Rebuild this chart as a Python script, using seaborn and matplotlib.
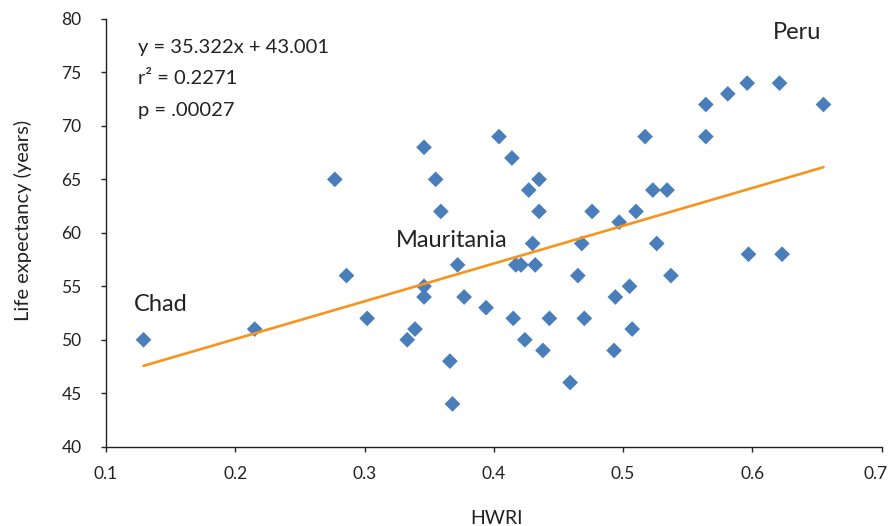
import matplotlib
matplotlib.use("Agg")
import matplotlib.pyplot as plt
import matplotlib.transforms as mtransforms
import seaborn as sns
import pandas as pd

hwri = [0.129, 0.215, 0.277, 0.286, 0.302, 0.333, 0.339, 0.346, 0.346, 0.346,
        0.355, 0.359, 0.366, 0.368, 0.372, 0.377, 0.394, 0.404, 0.414, 0.415,
        0.417, 0.421, 0.424, 0.427, 0.430, 0.432, 0.435, 0.435, 0.438, 0.443,
        0.459, 0.465, 0.468, 0.470, 0.476, 0.493, 0.494, 0.497, 0.505, 0.507,
        0.510, 0.517, 0.523, 0.526, 0.534, 0.537, 0.564, 0.564, 0.581, 0.596,
        0.597, 0.621, 0.623, 0.655]
life_exp = [50, 51, 65, 56, 52, 50, 51, 68, 55, 54,
            65, 62, 48, 44, 57, 54, 53, 69, 67, 52,
            57, 57, 50, 64, 59, 57, 65, 62, 49, 52,
            46, 56, 59, 52, 62, 49, 54, 61, 55, 51,
            62, 69, 64, 59, 64, 56, 72, 69, 73, 74,
            58, 74, 58, 72]

slope = 35.322
intercept = 43.001
eq_lines = ["y = 35.322x + 43.001", "r² = 0.2271", "p = .00027"]
labels = ["Chad", "Mauritania", "Peru"]
label_pos = [(0.1425, 53.3), (0.3676, 59.3), (0.6344, 78.7)]

x_ticks = [0.1, 0.2, 0.3, 0.4, 0.5, 0.6, 0.7]
y_ticks = [40, 45, 50, 55, 60, 65, 70, 75, 80]

sns.set_style("ticks")
plt.rcParams['font.family'] = ['Lato', 'DejaVu Sans']

df = pd.DataFrame({"HWRI": hwri, "Life": life_exp})
trend_x = [min(hwri), max(hwri)]
trend = pd.DataFrame({"x": trend_x, "y": [slope * v + intercept for v in trend_x]})

fig = plt.figure(figsize=(8.91, 5.26), dpi=100)
ax = fig.add_axes([0.119, 0.1508, 0.8705, 0.8131])

sns.scatterplot(data=df, x="HWRI", y="Life", marker="D", s=64, color="#4A7EBB",
                edgecolor="none", linewidth=0, ax=ax, zorder=2)
sns.lineplot(data=trend, x="x", y="y", color="#F7941D", linewidth=1.9, ax=ax, zorder=3)

ax.set_xlim(0.1, 0.7)
ax.set_ylim(40, 80)
ax.set_xticks(x_ticks)
ax.set_xticklabels([f"{v:g}" for v in x_ticks])
ax.set_yticks(y_ticks)
ax.tick_params(axis="both", labelsize=12.5, length=3.6, width=1, colors="#222222", direction="out")
ax.tick_params(axis="x", pad=10)
ax.tick_params(axis="y", pad=14)
for sp in ["top", "right"]:
    ax.spines[sp].set_visible(False)
for sp in ["left", "bottom"]:
    ax.spines[sp].set_color("#222222")
    ax.spines[sp].set_linewidth(1.0)

# nudge the last x tick label slightly left so it stays inside the figure
last = ax.get_xticklabels()[-1]
last.set_transform(last.get_transform() + mtransforms.ScaledTranslation(-4 / 72, 0, fig.dpi_scale_trans))

ax.set_xlabel("HWRI", fontsize=14, color="#222222")
ax.xaxis.set_label_coords(0.504, -0.148)
ax.set_ylabel("Life expectancy (years)", fontsize=14.5, color="#222222")
ax.yaxis.set_label_coords(-0.0954, 0.530)

for i, t in enumerate(eq_lines):
    ax.text(0.041, 0.9345 - i * 0.0745, t, transform=ax.transAxes, fontsize=14.5,
            va="center", ha="left", color="#222222")

for lab, (lx, ly) in zip(labels, label_pos):
    ax.text(lx, ly, lab, fontsize=17, ha="center", va="center", color="#222222")

fig.savefig("out.png", dpi=100)
